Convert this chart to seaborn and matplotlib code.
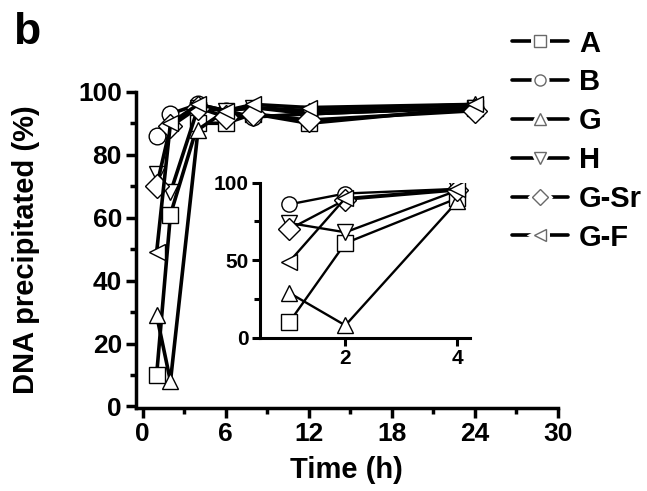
import numpy as np
import pandas as pd
import matplotlib
matplotlib.use("Agg")
import matplotlib.pyplot as plt
import seaborn as sns
from matplotlib.lines import Line2D
from matplotlib.legend_handler import HandlerTuple
from matplotlib.ticker import MultipleLocator

# data
times = [1, 2, 4, 6, 8, 12, 24]
A = [10, 61, 90, 90, 93, 90, 95]
B = [86, 93, 96, 94, 92, 93, 95]
G = [29, 8, 88, 94, 95, 94, 96]
H = [74, 68, 95, 94, 95, 93, 95]
G_Sr = [70, 89, 95, 92, 93, 91, 94]
G_F = [49, 90, 96, 94, 96, 95, 96]

samples = ["A", "B", "G", "H", "G-Sr", "G-F"]
values = [A, B, G, H, G_Sr, G_F]
markers = {"A": "s", "B": "o", "G": "^", "H": "v", "G-Sr": "D", "G-F": "<"}

rows = []
for name, vals in zip(samples, values):
    for t, v in zip(times, vals):
        rows.append({"time": t, "pct": v, "sample": name})
df = pd.DataFrame(rows)
df_inset = df[df["time"] <= 4]

sns.set_style("ticks")
plt.rcParams["font.family"] = ["Liberation Sans", "DejaVu Sans"]
plt.rcParams["font.weight"] = "bold"
for key in ["text.color", "axes.labelcolor", "xtick.color", "ytick.color",
            "axes.edgecolor"]:
    plt.rcParams[key] = "black"

palette = {s: "black" for s in samples}

fig = plt.figure(figsize=(6.47, 4.91), dpi=100)
ax = fig.add_axes([0.210, 0.169, 0.652, 0.644])

sns.lineplot(data=df, x="time", y="pct", hue="sample", style="sample",
             markers=markers, dashes=False, palette=palette, legend=False,
             ax=ax, linewidth=2.6, markersize=12, markerfacecolor="white",
             markeredgecolor="black", markeredgewidth=1.0)

ax.set_xlim(-0.5, 30)
ax.set_ylim(-0.5, 100)
ax.xaxis.set_major_locator(MultipleLocator(6))
ax.xaxis.set_minor_locator(MultipleLocator(3))
ax.yaxis.set_major_locator(MultipleLocator(20))
ax.yaxis.set_minor_locator(MultipleLocator(10))
ax.tick_params(which="major", length=7, width=2.5, labelsize=19, pad=3)
ax.tick_params(which="minor", length=4, width=2.5)
for lab in ax.get_xticklabels() + ax.get_yticklabels():
    lab.set_fontweight("bold")
for s in ["top", "right"]:
    ax.spines[s].set_visible(False)
for s in ["left", "bottom"]:
    ax.spines[s].set_linewidth(2.5)
ax.set_xlabel("Time (h)", fontsize=21, fontweight="bold", labelpad=7)
ax.set_ylabel("DNA precipitated (%)", fontsize=21, fontweight="bold")
ax.yaxis.set_label_coords(-0.228, 0.5)

# inset
axi = fig.add_axes([0.402, 0.312, 0.325, 0.316])
sns.lineplot(data=df_inset, x="time", y="pct", hue="sample", style="sample",
             markers=markers, dashes=False, palette=palette, legend=False,
             ax=axi, linewidth=1.7, markersize=11, markerfacecolor="white",
             markeredgecolor="black", markeredgewidth=1.0)
axi.set_xlim(0.48, 4.23)
axi.set_ylim(0, 100)
axi.set_xticks([2, 4])
axi.yaxis.set_major_locator(MultipleLocator(50))
axi.yaxis.set_minor_locator(MultipleLocator(25))
axi.tick_params(which="major", length=6, width=2.2, labelsize=15, pad=2)
axi.tick_params(which="minor", length=4, width=2.2)
for lab in axi.get_xticklabels() + axi.get_yticklabels():
    lab.set_fontweight("bold")
for s in ["top", "right"]:
    axi.spines[s].set_visible(False)
for s in ["left", "bottom"]:
    axi.spines[s].set_linewidth(2.2)
axi.set_xlabel("")
axi.set_ylabel("")
axi.patch.set_alpha(0)

# legend: line with a small gap around a hollow grey marker
handles = []
for s in samples:
    back = Line2D([], [], color="black", linewidth=2.6, marker=markers[s],
                  markersize=8, markerfacecolor="white",
                  markeredgecolor="white", markeredgewidth=5)
    front = Line2D([], [], linestyle="none", marker=markers[s],
                   markersize=8, markerfacecolor="white",
                   markeredgecolor="dimgray", markeredgewidth=1.0)
    handles.append((back, front))
fig.legend(handles, samples, loc="upper left", bbox_to_anchor=(0.751, 0.993),
           frameon=False, prop={"size": 21, "weight": "bold"},
           handler_map={tuple: HandlerTuple(ndivide=1)},
           handlelength=1.9, handletextpad=0.4, labelspacing=0.37)

fig.text(0.02, 0.975, "b", fontsize=32, fontweight="bold", va="top", ha="left")

fig.savefig("out.png", dpi=100)
